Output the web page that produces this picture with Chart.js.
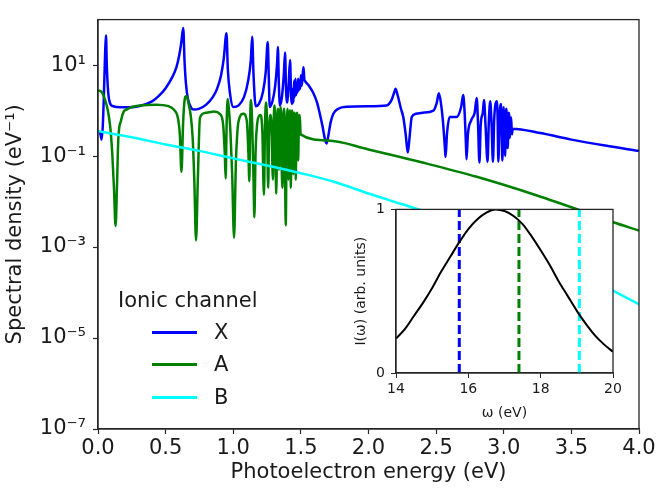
<!DOCTYPE html>
<html><head><meta charset="utf-8">
<script src="https://cdn.jsdelivr.net/npm/chart.js@4.4.0/dist/chart.umd.min.js"></script>
<style>
html,body{margin:0;padding:0;background:#fff;}
#wrap{position:relative;width:664px;height:496px;overflow:hidden;background:#fff;}
#main{position:absolute;left:0;top:0;}
#inset{position:absolute;left:330px;top:195px;}
#legend{position:absolute;left:0;top:0;width:0;height:0;font-family:'DejaVu Sans',sans-serif;color:#1a1a1a;font-size:21px;}
#legend div{position:absolute;white-space:nowrap;}
</style></head>
<body><div id="wrap"><canvas id="main" width="664" height="496"></canvas><canvas id="inset" width="300" height="234"></canvas><div id="legend"></div></div>
<script>
// ---------------- data ----------------
const channelLabels = ['X', 'A', 'B'];
const legendTitle = 'Ionic channel';
const xTickStep = 0.5;
const yTickValues = [1e-7, 1e-5, 1e-3, 1e-1, 1e1];

// [photoelectron energy (eV), spectral density (1/eV)]
const channelX = [[0,0.35],[0.015,0.33],[0.027,0.23],[0.036,0.5],[0.045,3],[0.053,20],[0.059,45],[0.065,10],[0.075,2.6],[0.089,1.45],[0.11,1.25],[0.14,1.2],[0.2,1.18],[0.3,1.25],[0.4,1.6],[0.45,2.1],[0.5,3.1],[0.55,5.5],[0.58,9],[0.6,16],[0.615,30],[0.63,65],[0.64,12],[0.65,4],[0.665,1.8],[0.69,1.15],[0.705,1.05],[0.75,1.1],[0.8,1.35],[0.85,2],[0.88,3],[0.91,6],[0.93,14],[0.95,50],[0.96,8],[0.975,2.5],[1.0,1.2],[1.04,1.3],[1.08,2],[1.11,4.5],[1.13,13],[1.14,42],[1.15,6],[1.166,1.25],[1.19,1.4],[1.22,2.6],[1.24,7],[1.255,32],[1.263,5],[1.27,1.2],[1.29,1.6],[1.31,3.5],[1.325,12],[1.33,25],[1.337,4],[1.345,1.3],[1.36,2],[1.375,7],[1.383,19],[1.39,3],[1.4,1.5],[1.41,4],[1.42,13],[1.428,2],[1.435,1.4],[1.44,3],[1.445,1.5],[1.45,4.5],[1.455,2],[1.46,5],[1.465,2.2],[1.47,4],[1.475,2.5],[1.48,5],[1.485,2.8],[1.49,4],[1.495,3],[1.5,6],[1.505,3.5],[1.51,4.5],[1.515,7],[1.52,9],[1.525,5],[1.53,4.5],[1.56,3.5],[1.59,2.5],[1.62,1.5],[1.64,0.85],[1.66,0.45],[1.68,0.22],[1.69,0.19],[1.7,0.25],[1.72,0.55],[1.74,0.85],[1.777,1.1],[1.84,1.22],[2.0,1.25],[2.134,1.3],[2.17,1.7],[2.19,2.5],[2.2,3.0],[2.215,2.2],[2.24,1.1],[2.257,0.72],[2.275,0.3],[2.29,0.12],[2.3,0.2],[2.32,0.72],[2.35,0.85],[2.4,0.9],[2.48,1.0],[2.505,1.5],[2.52,2.4],[2.535,1.5],[2.55,0.6],[2.565,0.15],[2.57,0.095],[2.58,0.3],[2.6,0.72],[2.65,0.72],[2.685,1.2],[2.7,2.2],[2.71,1.0],[2.72,0.2],[2.725,0.085],[2.735,0.3],[2.76,0.62],[2.785,0.9],[2.8,1.9],[2.81,0.5],[2.82,0.072],[2.83,0.5],[2.845,0.9],[2.854,1.7],[2.865,0.5],[2.88,0.075],[2.89,0.6],[2.9,1.6],[2.91,0.5],[2.92,0.075],[2.93,0.7],[2.95,1.6],[2.955,0.6],[2.96,0.075],[2.97,0.8],[2.98,1.4],[2.985,0.3],[2.99,0.08],[2.995,0.6],[3.0,1.2],[3.005,0.3],[3.01,0.1],[3.015,0.7],[3.02,1.1],[3.025,0.2],[3.03,0.15],[3.035,0.9],[3.04,0.8],[3.045,0.25],[3.05,0.6],[3.055,0.7],[3.06,0.3],[3.066,0.4],[3.27,0.32],[3.5,0.23],[3.75,0.17],[4.0,0.13]];

const channelA = [[0,2.8],[0.03,2.5],[0.05,1.8],[0.07,1.1],[0.09,0.45],[0.105,0.12],[0.118,0.02],[0.13,0.0029],[0.14,0.02],[0.15,0.23],[0.17,0.6],[0.19,0.95],[0.21,1.05],[0.25,1.2],[0.31,1.3],[0.43,1.35],[0.52,1.25],[0.56,1.05],[0.59,0.7],[0.605,0.3],[0.617,0.045],[0.63,0.6],[0.645,2.0],[0.655,2.1],[0.67,1.4],[0.685,0.8],[0.7,0.25],[0.712,0.03],[0.725,0.0014],[0.738,0.03],[0.754,0.7],[0.8,0.9],[0.86,0.95],[0.9,0.85],[0.925,0.5],[0.937,0.12],[0.944,0.032],[0.951,0.5],[0.959,1.8],[0.97,0.9],[0.98,0.3],[0.992,0.04],[1.006,0.0016],[1.02,0.08],[1.04,0.6],[1.075,0.85],[1.1,0.6],[1.112,0.12],[1.119,0.028],[1.125,0.6],[1.131,1.7],[1.14,0.5],[1.15,0.03],[1.156,0.0045],[1.165,0.12],[1.18,0.6],[1.2,0.8],[1.215,0.35],[1.227,0.014],[1.235,0.5],[1.243,1.5],[1.25,0.5],[1.258,0.02],[1.265,0.3],[1.275,0.8],[1.285,0.3],[1.29,0.05],[1.294,0.03],[1.3,0.7],[1.307,1.3],[1.313,0.1],[1.318,0.015],[1.325,0.5],[1.332,1.1],[1.338,0.05],[1.345,0.6],[1.352,1.2],[1.358,0.06],[1.365,0.02],[1.372,0.9],[1.378,1.1],[1.383,0.05],[1.388,0.003],[1.395,0.3],[1.402,1.1],[1.408,0.03],[1.414,0.8],[1.42,1.0],[1.426,0.02],[1.432,0.7],[1.438,1.0],[1.444,0.04],[1.45,0.8],[1.456,0.9],[1.462,0.03],[1.468,0.6],[1.474,0.9],[1.48,0.08],[1.486,0.7],[1.492,0.8],[1.498,0.3],[1.7,0.22],[2.0,0.14],[2.4,0.072],[2.8,0.035],[3.24,0.0138],[3.6,0.0059],[3.81,0.0035],[4.0,0.0023]];

const channelB = [[0,0.35],[0.25,0.26],[0.5,0.18],[0.75,0.13],[1.0,0.089],[1.25,0.062],[1.5,0.042],[1.75,0.027],[2.0,0.015],[2.25,0.0087],[2.5,0.005],[2.75,0.0026],[3.0,0.00135],[3.25,0.00066],[3.5,0.00031],[3.75,0.000135],[4.0,0.000055]];

// inset: pulse spectrum I(omega) and channel thresholds (eV)
const pulseOmega = [14,14.25,14.5,14.75,15,15.25,15.5,15.75,16,16.25,16.5,16.75,17,17.25,17.5,17.75,18,18.25,18.5,18.75,19,19.25,19.5,19.75,20];
const pulseIntensity = [0.21,0.27,0.35,0.43,0.52,0.62,0.71,0.80,0.88,0.94,0.98,1.0,0.99,0.96,0.91,0.835,0.75,0.66,0.56,0.47,0.38,0.30,0.23,0.175,0.13];
const thresholds = [15.75, 17.4, 19.07];

const colors = ['#0000ff', '#008000', '#00ffff'];

// ---------------- helpers ----------------
const AX = '#262626';
Chart.defaults.font.family = "'DejaVu Sans', sans-serif";
Chart.defaults.color = '#1a1a1a';
const toPts = arr => arr.map(p => ({x: p[0], y: p[1]}));
const sup = {'-':'\u207B','0':'\u2070','1':'\u00B9','2':'\u00B2','3':'\u00B3','4':'\u2074','5':'\u2075','6':'\u2076','7':'\u2077','8':'\u2078','9':'\u2079'};
const fmtPow = v => '10' + String(Math.round(Math.log10(v))).split('').map(c => sup[c]).join('');

const frame = {
  id: 'frame',
  afterDatasetsDraw(c) {
    const {ctx, chartArea: a} = c;
    ctx.save(); ctx.strokeStyle = AX; ctx.lineWidth = 1.3;
    ctx.strokeRect(a.left, a.top, a.right - a.left, a.bottom - a.top);
    ctx.restore();
  }
};
const whiteBg = {
  id: 'whiteBg',
  beforeDraw(c) {
    const {ctx, chartArea: a} = c;
    ctx.save(); ctx.fillStyle = '#ffffff';
    ctx.fillRect(a.left, a.top, a.right - a.left, a.bottom - a.top);
    ctx.restore();
  }
};

const series = [channelX, channelA, channelB];
const mainChart = new Chart(document.getElementById('main'), {
  type: 'line',
  data: {
    datasets: series.map((s, i) => ({
      label: channelLabels[i], data: toPts(s), borderColor: colors[i], backgroundColor: colors[i],
      borderWidth: 2.5, pointRadius: 0, cubicInterpolationMode: 'monotone', fill: false, order: 3 - i
    }))
  },
  options: {
    responsive: false, animation: false, devicePixelRatio: 1,
    layout: {padding: {left: 0, right: 25, top: 11, bottom: 0}},
    plugins: {legend: {display: false}, tooltip: {enabled: false}},
    scales: {
      x: {
        type: 'linear', min: 0, max: 4,
        afterFit(s) { s.height = 67; },
        ticks: {stepSize: xTickStep, callback: v => Number(v).toFixed(1), font: {size: 21}, padding: 2, maxRotation: 0, autoSkip: false},
        grid: {drawOnChartArea: false, tickLength: 5, color: AX, tickWidth: 1.2},
        border: {color: AX, width: 1.3},
        title: {display: true, text: 'Photoelectron energy (eV)', font: {size: 21}, padding: {top: 0, bottom: 11}}
      },
      y: {
        type: 'logarithmic', min: 1e-7, max: 1e2,
        afterFit(s) { s.width = 98; },
        afterBuildTicks(s) { s.ticks = yTickValues.map(v => ({value: v})); },
        ticks: {callback: v => fmtPow(v), font: {size: 21}, padding: 7, autoSkip: false},
        grid: {drawOnChartArea: false, tickLength: 5, color: AX, tickWidth: 1.2},
        border: {color: AX, width: 1.3},
        title: {display: true, text: 'Spectral density (eV\u207B\u00B9)', font: {size: 21}, padding: {top: 3, bottom: 0}}
      }
    }
  },
  plugins: [frame]
});

// inset
const insetSets = [{
  label: 'I', data: pulseOmega.map((w, i) => ({x: w, y: pulseIntensity[i]})),
  borderColor: '#000000', borderWidth: 2, pointRadius: 0, cubicInterpolationMode: 'monotone', fill: false, order: 0
}].concat(thresholds.map((t, i) => ({
  label: channelLabels[i] + ' threshold', data: [{x: t, y: 0}, {x: t, y: 1}],
  borderColor: colors[i], borderWidth: 3, borderDash: [9, 4], pointRadius: 0, fill: false, order: 1
})));

new Chart(document.getElementById('inset'), {
  type: 'line',
  data: {datasets: insetSets},
  options: {
    responsive: false, animation: false, devicePixelRatio: 1,
    layout: {padding: {left: 0, right: 17, top: 12, bottom: 0}},
    plugins: {legend: {display: false}, tooltip: {enabled: false}},
    scales: {
      x: {
        type: 'linear', min: 14, max: 20,
        afterFit(s) { s.height = 56; },
        ticks: {stepSize: 2, font: {size: 14}, padding: 3, maxRotation: 0},
        grid: {drawOnChartArea: false, tickLength: 5, color: AX, tickWidth: 1},
        border: {color: AX, width: 1.2},
        title: {display: true, text: '\u03C9 (eV)', font: {size: 14}, padding: {top: 0, bottom: 7}}
      },
      y: {
        type: 'linear', min: 0, max: 1,
        afterFit(s) { s.width = 66; },
        ticks: {stepSize: 1, font: {size: 14}, padding: 6},
        grid: {drawOnChartArea: false, tickLength: 5, color: AX, tickWidth: 1},
        border: {color: AX, width: 1.2},
        title: {display: true, text: 'I(\u03C9) (arb. units)', font: {size: 14}, padding: {top: 23, bottom: 0}}
      }
    }
  },
  plugins: [whiteBg, frame]
});

// legend (HTML, built from the main chart's datasets)
(function buildLegend() {
  const lg = document.getElementById('legend');
  const t = document.createElement('div');
  t.textContent = legendTitle;
  t.style.cssText = 'left:118px;top:287px;line-height:26px;';
  lg.appendChild(t);
  const rowsY = [332, 364, 397];
  mainChart.data.datasets.forEach((ds, i) => {
    const ln = document.createElement('div');
    ln.style.cssText = `left:152px;top:${rowsY[i] - 1.5}px;width:45px;height:3px;background:${ds.borderColor};`;
    lg.appendChild(ln);
    const tx = document.createElement('div');
    tx.textContent = ds.label;
    tx.style.cssText = `left:214px;top:${rowsY[i] - 13}px;line-height:26px;`;
    lg.appendChild(tx);
  });
})();
</script></body></html>
